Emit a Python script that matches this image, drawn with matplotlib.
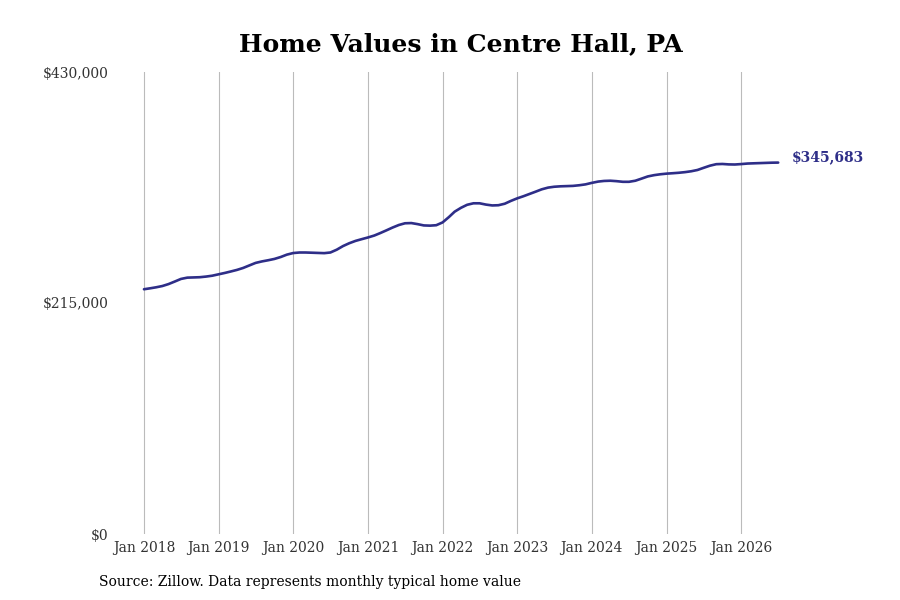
import matplotlib
matplotlib.use("Agg")
import matplotlib.pyplot as plt
import matplotlib.dates as mdates
from matplotlib.ticker import FuncFormatter
import pandas as pd

# monthly typical home value, Jan 2018 .. Jul 2026
values_2018 = [227800, 228700, 229600, 230800, 232600, 235000, 237400, 238600, 238800, 239000, 239600, 240400]
values_2019 = [241700, 243000, 244300, 245800, 247600, 250000, 252300, 253700, 254800, 256000, 257800, 260000]
values_2020 = [261500, 262000, 262000, 261800, 261600, 261400, 262000, 264600, 268000, 270600, 272800, 274400]
values_2021 = [276000, 277800, 280000, 282600, 285200, 287600, 289200, 289400, 288400, 287200, 287000, 287400]
values_2022 = [290000, 295000, 300000, 303600, 306400, 307800, 307800, 306600, 305800, 306000, 307400, 310000]
values_2023 = [312400, 314400, 316400, 318600, 320800, 322400, 323200, 323600, 323800, 324000, 324600, 325400]
values_2024 = [326800, 328000, 328600, 328800, 328400, 327800, 327800, 328800, 330800, 332800, 334000, 334800]
values_2025 = [335400, 335800, 336200, 336800, 337600, 338800, 340800, 342800, 344200, 344400, 344000, 343900]
values_2026 = [344300, 344800, 345000, 345200, 345400, 345600, 345683]

values = (values_2018 + values_2019 + values_2020 + values_2021 + values_2022
          + values_2023 + values_2024 + values_2025 + values_2026)
dates = pd.date_range("2018-01-01", periods=len(values), freq="MS")

y_ticks = [0, 215000, 430000]
x_ticks = pd.date_range("2018-01-01", "2026-01-01", freq="YS")

line_color = "#2e2e88"
plt.rcParams["font.family"] = "DejaVu Serif"

fig = plt.figure(figsize=(9, 6), dpi=100)
ax = fig.add_axes([0.1333, 0.11, 0.7556, 0.77])

ax.plot(dates, values, color=line_color, linewidth=1.9, solid_capstyle="round")

ax.set_ylim(0, 430000)
ax.set_xlim(17414.6, 20741.7)
ax.set_yticks(y_ticks)
ax.yaxis.set_major_formatter(FuncFormatter(lambda v, p: "${:,.0f}".format(v)))
ax.set_xticks(x_ticks)
ax.xaxis.set_major_formatter(mdates.DateFormatter("%b %Y"))

for s in ax.spines.values():
    s.set_visible(False)
ax.tick_params(length=0, labelsize=10, colors="#333333")
ax.tick_params(axis="y", pad=8.5)
ax.tick_params(axis="x", pad=5)
ax.grid(axis="x", color="#bbbbbb", linewidth=0.8)
ax.set_axisbelow(True)

ax.annotate("${:,.0f}".format(values[-1]), xy=(dates[-1], values[-1]),
            xytext=(9.5, 4), textcoords="offset points", color=line_color,
            fontsize=10, fontweight="bold", va="center", ha="left")

fig.text(0.5117, 0.927, "Home Values in Centre Hall, PA", ha="center", va="center",
         fontsize=18, fontweight="bold")
fig.text(0.11, 0.03, "Source: Zillow. Data represents monthly typical home value",
         ha="left", va="center", fontsize=10)

fig.savefig("out.png", dpi=100)
